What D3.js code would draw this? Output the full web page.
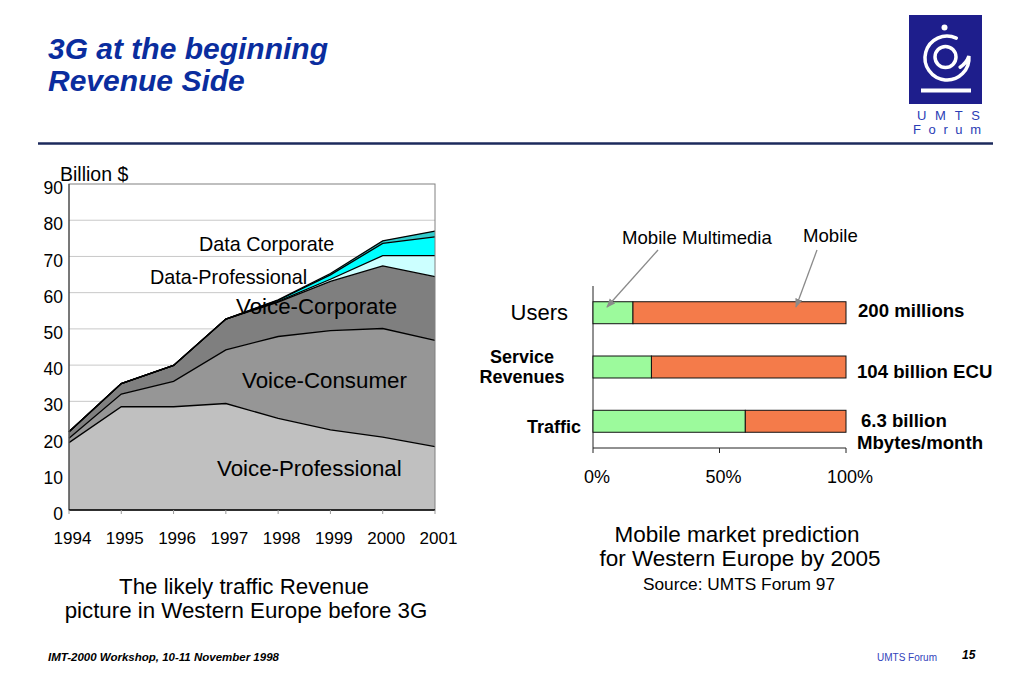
<!DOCTYPE html>
<html>
<head>
<meta charset="utf-8">
<script src="https://cdn.jsdelivr.net/npm/d3@7"></script>
<style>
  body { margin: 0; background: #fff; }
  svg { font-family: "Liberation Sans", Arial, sans-serif; }
</style>
</head>
<body>
<svg width="1023" height="682"></svg>
<script>
// ---- revenue picture (billion $), one value per layer per year ----
var years = [1994, 1995, 1996, 1997, 1998, 1999, 2000, 2001];
var voiceProfessional = [18.6, 28.5, 28.5, 29.4, 25.3, 22.1, 20.1, 17.5];
var voiceConsumer     = [1.2, 3.5, 7.0, 14.8, 22.6, 27.4, 30.0, 29.3];
var voiceCorporate    = [1.8, 2.9, 4.4, 8.5, 9.5, 13.6, 17.3, 17.6];
var dataProfessional  = [0, 0, 0, 0, 0.2, 0.6, 2.8, 5.8];
var dataCorporate     = [0, 0, 0, 0, 0.3, 1.2, 3.4, 5.2];
var dataOther         = [0, 0, 0, 0, 0.1, 0.4, 0.7, 1.6];
var yTicks = [0, 10, 20, 30, 40, 50, 60, 70, 80, 90];

// ---- market prediction 2005 (% share) ----
var marketRows = ["Users", "Service Revenues", "Traffic"];
var multimediaShare = [15.8, 23.1, 60.2];
var mobileShare     = [84.2, 76.9, 39.8];
var marketTotals = [["200 millions"], ["104 billion ECU"], ["6.3 billion", "Mbytes/month"]];
var pctTicks = [0, 50, 100];

var svg = d3.select("svg");

// ---------- header ----------
svg.append("text").attr("x", 48).attr("y", 59)
  .style("font-size", "30px").style("font-weight", "bold").style("font-style", "italic")
  .style("fill", "#0a2d9e").text("3G at the beginning");
svg.append("text").attr("x", 48).attr("y", 91)
  .style("font-size", "30px").style("font-weight", "bold").style("font-style", "italic")
  .style("fill", "#0a2d9e").text("Revenue Side");
svg.append("line").attr("x1", 38).attr("x2", 993).attr("y1", 143.5).attr("y2", 143.5)
  .style("stroke", "#1c2a5c").style("stroke-width", 2.5);

// logo
var logo = svg.append("g");
logo.append("rect").attr("x", 909).attr("y", 15).attr("width", 73).attr("height", 89).style("fill", "#1e1e8c");
logo.append("circle").attr("cx", 944.5).attr("cy", 27.5).attr("r", 3).style("fill", "#fff");
logo.append("circle").attr("cx", 945.5).attr("cy", 57).attr("r", 10.5)
  .style("fill", "none").style("stroke", "#fff").style("stroke-width", 3.5);
var cx = 947, cy = 58;
function pt(a, r) { var t = a * Math.PI / 180; return [cx + r * Math.sin(t), cy - r * Math.cos(t)]; }
var s0 = pt(25, 22), s1 = pt(85, 22), s2 = pt(125, 16);
logo.append("path")
  .attr("d", "M" + s0 + "A22,22 0 1 0 " + s1 + "Q" + pt(105, 20) + " " + s2)
  .style("fill", "none").style("stroke", "#fff").style("stroke-width", 3.5).style("stroke-linecap", "round");
logo.append("rect").attr("x", 921).attr("y", 88.5).attr("width", 50).attr("height", 4).style("fill", "#fff");
logo.append("text").attr("x", 917).attr("y", 119.5).attr("textLength", 63).attr("lengthAdjust", "spacing")
  .style("font-size", "13px").style("fill", "#2a3db5").text("UMTS");
logo.append("text").attr("x", 913).attr("y", 134).attr("textLength", 68).attr("lengthAdjust", "spacing")
  .style("font-size", "13px").style("fill", "#2a3db5").text("Forum");

// ---------- stacked area chart ----------
var layers = [
  { name: "Voice-Professional", values: voiceProfessional, color: "#c0c0c0" },
  { name: "Voice-Consumer",     values: voiceConsumer,     color: "#969696" },
  { name: "Voice-Corporate",    values: voiceCorporate,    color: "#7f7f7f" },
  { name: "Data-Professional",  values: dataProfessional,  color: "#ccffff" },
  { name: "Data Corporate",     values: dataCorporate,     color: "#00ffff" },
  { name: "Data-Other",         values: dataOther,         color: "#33cccc" }
];
var table = years.map(function (yr, i) {
  var row = { year: yr };
  layers.forEach(function (l) { row[l.name] = l.values[i]; });
  return row;
});
var stacked = d3.stack().keys(layers.map(function (l) { return l.name; }))(table);

var x = d3.scaleLinear().domain([1994, 2001]).range([69, 435]);
var y = d3.scaleLinear().domain([0, 90]).range([510, 184]);

var chart = svg.append("g").classed("area-chart", true);

chart.selectAll(".grid").data(yTicks.slice(1, -1)).enter().append("line")
  .attr("x1", x(1994)).attr("x2", x(2001))
  .attr("y1", function (d) { return y(d); }).attr("y2", function (d) { return y(d); })
  .style("stroke", "#c8c8c8").style("stroke-width", 1);

var area = d3.area()
  .x(function (d) { return x(d.data.year); })
  .y0(function (d) { return y(d[0]); })
  .y1(function (d) { return y(d[1]); });
var topLine = d3.line()
  .x(function (d) { return x(d.data.year); })
  .y(function (d) { return y(d[1]); });

chart.selectAll(".layer").data(stacked).enter().append("path")
  .attr("d", area)
  .style("fill", function (d, i) { return layers[i].color; });
chart.selectAll(".edge").data(stacked).enter().append("path")
  .attr("d", topLine)
  .style("fill", "none").style("stroke", "#000").style("stroke-width", 1.3);

// frame
chart.append("rect").attr("x", x(1994)).attr("y", y(90))
  .attr("width", x(2001) - x(1994)).attr("height", y(0) - y(90))
  .style("fill", "none").style("stroke", "#808080").style("stroke-width", 1);
chart.append("line").attr("x1", x(1994)).attr("x2", x(1994)).attr("y1", y(0)).attr("y2", y(90))
  .style("stroke", "#333").style("stroke-width", 1);
chart.append("line").attr("x1", x(1994)).attr("x2", x(2001)).attr("y1", y(0)).attr("y2", y(0))
  .style("stroke", "#000").style("stroke-width", 1.5);

chart.selectAll(".xtick").data(years).enter().append("line")
  .attr("x1", function (d) { return x(d); }).attr("x2", function (d) { return x(d); })
  .attr("y1", y(0)).attr("y2", y(0) + 4)
  .style("stroke", "#999");

chart.selectAll(".ylab").data(yTicks).enter().append("text")
  .attr("x", 63).attr("y", function (d) { return y(d) + 4; })
  .attr("dy", "0.35em").attr("text-anchor", "end")
  .style("font-size", "17.5px").text(function (d) { return d; });
chart.selectAll(".xlab").data(years).enter().append("text")
  .attr("x", function (d) { return x(d) + 3.5; }).attr("y", 544)
  .attr("text-anchor", "middle")
  .style("font-size", "17px").text(function (d) { return d; });

chart.append("text").attr("x", 60).attr("y", 181).style("font-size", "19.5px").text("Billion $");

var layerLabels = {
  "Data Corporate":     { x: 199, y: 251, size: 19.8 },
  "Data-Professional":  { x: 150, y: 284, size: 19.8 },
  "Voice-Corporate":    { x: 236, y: 314, size: 22.3 },
  "Voice-Consumer":     { x: 242, y: 388, size: 22.3 },
  "Voice-Professional": { x: 217, y: 476, size: 22.3 }
};
layers.forEach(function (l) {
  var p = layerLabels[l.name];
  if (!p) return;
  chart.append("text").attr("x", p.x).attr("y", p.y)
    .style("font-size", p.size + "px").text(l.name);
});

chart.append("text").attr("x", 244).attr("y", 594).attr("text-anchor", "middle")
  .style("font-size", "22.3px").text("The likely traffic Revenue");
chart.append("text").attr("x", 246).attr("y", 618).attr("text-anchor", "middle")
  .style("font-size", "22.3px").text("picture in Western Europe before 3G");

// ---------- market prediction bars ----------
var xB = d3.scaleLinear().domain([0, 100]).range([593, 846]);
var yB = d3.scaleBand().domain(marketRows).range([286, 448])
  .paddingInner(0.595).paddingOuter(0.29);

var bars = svg.append("g").classed("bar-chart", true);

bars.append("line").attr("x1", xB(0)).attr("x2", xB(0)).attr("y1", 286).attr("y2", 448)
  .style("stroke", "#222");
bars.append("line").attr("x1", xB(0)).attr("x2", xB(100)).attr("y1", 448).attr("y2", 448)
  .style("stroke", "#222");
bars.selectAll(".ptick").data(pctTicks).enter().append("line")
  .attr("x1", function (d) { return xB(d); }).attr("x2", function (d) { return xB(d); })
  .attr("y1", 448).attr("y2", 453).style("stroke", "#222");
bars.selectAll(".plab").data(pctTicks).enter().append("text")
  .attr("x", function (d) { return xB(d) + 4; }).attr("y", 483)
  .attr("text-anchor", "middle").style("font-size", "18px")
  .text(function (d) { return d + "%"; });

bars.selectAll(".mm").data(marketRows).enter().append("rect")
  .attr("x", xB(0)).attr("y", function (d) { return yB(d); })
  .attr("width", function (d, i) { return xB(multimediaShare[i]) - xB(0); })
  .attr("height", yB.bandwidth())
  .style("fill", "#9cfa9c").style("stroke", "#111").style("stroke-width", 1);
bars.selectAll(".mob").data(marketRows).enter().append("rect")
  .attr("x", function (d, i) { return xB(multimediaShare[i]); })
  .attr("y", function (d) { return yB(d); })
  .attr("width", function (d, i) { return xB(multimediaShare[i] + mobileShare[i]) - xB(multimediaShare[i]); })
  .attr("height", yB.bandwidth())
  .style("fill", "#f47b4a").style("stroke", "#111").style("stroke-width", 1);

// row labels
var mid = function (d) { return yB(d) + yB.bandwidth() / 2; };
bars.append("text").attr("x", 568).attr("y", mid("Users")).attr("dy", "0.35em")
  .attr("text-anchor", "end").style("font-size", "22px").text("Users");
bars.append("text").attr("x", 522).attr("y", mid("Service Revenues") - 10).attr("dy", "0.35em")
  .attr("text-anchor", "middle").style("font-size", "18px").style("font-weight", "bold").text("Service");
bars.append("text").attr("x", 522).attr("y", mid("Service Revenues") + 10).attr("dy", "0.35em")
  .attr("text-anchor", "middle").style("font-size", "18px").style("font-weight", "bold").text("Revenues");
bars.append("text").attr("x", 581).attr("y", mid("Traffic") + 5).attr("dy", "0.35em")
  .attr("text-anchor", "end").style("font-size", "18px").style("font-weight", "bold").text("Traffic");

// totals at the right
marketTotals.forEach(function (lines, i) {
  var yc = mid(marketRows[i]);
  var offs = lines.length === 1 ? [-2] : [-0.5, 21.5];
  if (i === 1) offs = [4];
  lines.forEach(function (t, j) {
    bars.append("text").attr("x", j === 0 && lines.length > 1 ? 861 : (i === 0 ? 858 : 857))
      .attr("y", yc + offs[j]).attr("dy", "0.35em")
      .style("font-size", "18.6px").style("font-weight", "bold").text(t);
  });
});

// callouts
var defs = svg.append("defs");
defs.append("marker").attr("id", "arr").attr("viewBox", "0 0 10 10")
  .attr("refX", 9).attr("refY", 5).attr("markerWidth", 7).attr("markerHeight", 7)
  .attr("orient", "auto")
  .append("path").attr("d", "M0,1 L10,5 L0,9 Z").style("fill", "#8a8a8a");
bars.append("line").attr("x1", 658).attr("y1", 250).attr("x2", 607).attr("y2", 307)
  .style("stroke", "#8a8a8a").style("stroke-width", 1.3).attr("marker-end", "url(#arr)");
bars.append("line").attr("x1", 817).attr("y1", 250).attr("x2", 796).attr("y2", 307)
  .style("stroke", "#8a8a8a").style("stroke-width", 1.3).attr("marker-end", "url(#arr)");
bars.append("text").attr("x", 622).attr("y", 244).style("font-size", "18.6px").text("Mobile Multimedia");
bars.append("text").attr("x", 803).attr("y", 242).style("font-size", "18.6px").text("Mobile");

bars.append("text").attr("x", 737).attr("y", 542).attr("text-anchor", "middle")
  .style("font-size", "22.5px").text("Mobile market prediction");
bars.append("text").attr("x", 740).attr("y", 566).attr("text-anchor", "middle")
  .style("font-size", "22.5px").text("for Western Europe by 2005");
bars.append("text").attr("x", 739).attr("y", 590).attr("text-anchor", "middle")
  .style("font-size", "17.3px").text("Source: UMTS Forum 97");

// ---------- footer ----------
svg.append("text").attr("x", 48).attr("y", 661)
  .style("font-size", "11.5px").style("font-weight", "bold").style("font-style", "italic")
  .text("IMT-2000 Workshop, 10-11 November 1998");
svg.append("text").attr("x", 877).attr("y", 661)
  .style("font-size", "10px").style("fill", "#3344bb").text("UMTS Forum");
svg.append("text").attr("x", 962).attr("y", 659)
  .style("font-size", "12px").style("font-weight", "bold").style("font-style", "italic").text("15");
</script>
</body>
</html>
